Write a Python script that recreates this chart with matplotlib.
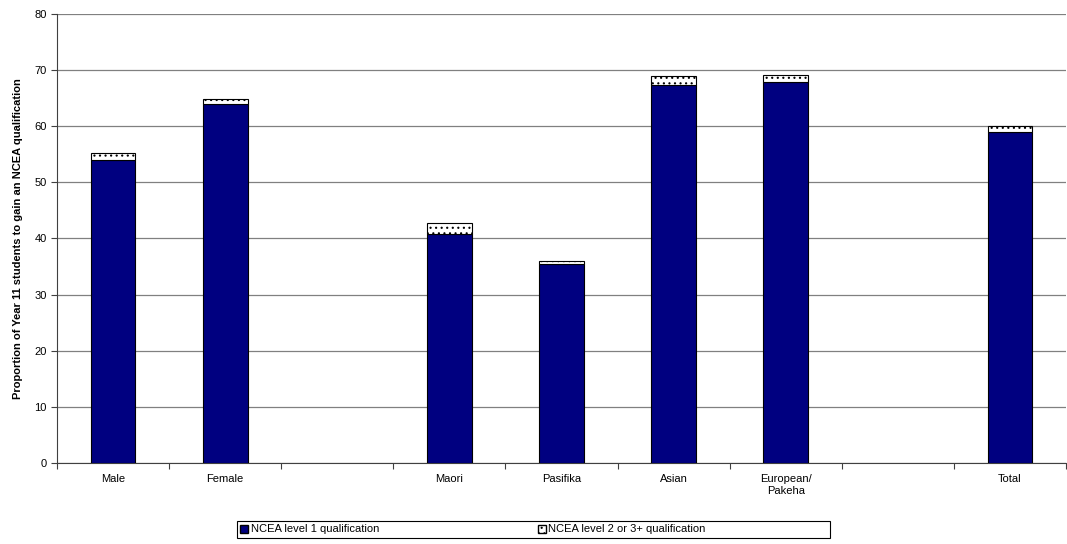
import numpy as np
import matplotlib.pyplot as plt
from matplotlib.patches import Patch, Rectangle

plt.rcParams['font.family'] = ['Liberation Sans', 'DejaVu Sans']
plt.rcParams['hatch.linewidth'] = 0.8

# ---------- data ----------
groups = ["Male", "Female", "", "Maori", "Pasifika", "Asian", "European/\nPakeha", "", "Total"]
level1 = [54.0, 63.9, np.nan, 40.8, 35.4, 67.3, 67.9, np.nan, 58.9]
level23 = [1.3, 1.0, np.nan, 1.9, 0.6, 1.7, 1.2, np.nan, 1.2]
yticks = [0, 10, 20, 30, 40, 50, 60, 70, 80]

fig = plt.figure(figsize=(10.67, 5.44), dpi=100)
ax = fig.add_axes([57 / 1067, 1 - 463 / 544, 1009 / 1067, 449 / 544])

x = np.arange(len(groups))
w = 0.4
ax.bar(x, level1, width=w, color="#000080", edgecolor="black", linewidth=0.8, zorder=3)
ax.bar(x, level23, width=w, bottom=level1, color="white", edgecolor="black",
       hatch="...", linewidth=0.8, zorder=3)

ax.set_xlim(-0.5, len(groups) - 0.5)
ax.set_ylim(0, 80)
ax.set_yticks(yticks)
ax.yaxis.grid(True, color="#808080", linewidth=0.9, zorder=0)
ax.set_axisbelow(True)

# category labels centred on bars, tick marks on the slot boundaries
ax.set_xticks(np.arange(len(groups) + 1) - 0.5)
ax.set_xticklabels([])
ax.set_xticks(x, minor=True)
ax.set_xticklabels(groups, minor=True, fontsize=8, va="top")
ax.tick_params(axis="x", which="minor", length=0, pad=8)
ax.tick_params(axis="x", which="major", length=4, color="#404040")
ax.tick_params(axis="y", labelsize=8, length=4, color="#404040")

for s in ["top", "right"]:
    ax.spines[s].set_visible(False)
for s in ["left", "bottom"]:
    ax.spines[s].set_color("#404040")

ax.set_ylabel("Proportion of Year 11 students to gain an NCEA qualification",
              fontsize=8, fontweight="bold", labelpad=8)

# legend entries without frame, box drawn separately
handles = [
    Patch(facecolor="#000080", edgecolor="black", label="NCEA level 1 qualification"),
    Patch(facecolor="white", edgecolor="black", hatch="...", label="NCEA level 2 or 3+ qualification"),
]
leg = fig.legend(handles=handles, loc="center left", bbox_to_anchor=(240 / 1067, 1 - 529.5 / 544),
                 ncol=2, fontsize=8, frameon=False, columnspacing=14.3,
                 handlelength=0.75, handleheight=0.75, handletextpad=0.2,
                 borderpad=0, borderaxespad=0)
fig.add_artist(Rectangle((237 / 1067, 1 - 538 / 544), (830 - 237) / 1067, 17 / 544,
                         transform=fig.transFigure, fill=False, edgecolor="black",
                         linewidth=0.8))

fig.savefig("out.png", dpi=100)
